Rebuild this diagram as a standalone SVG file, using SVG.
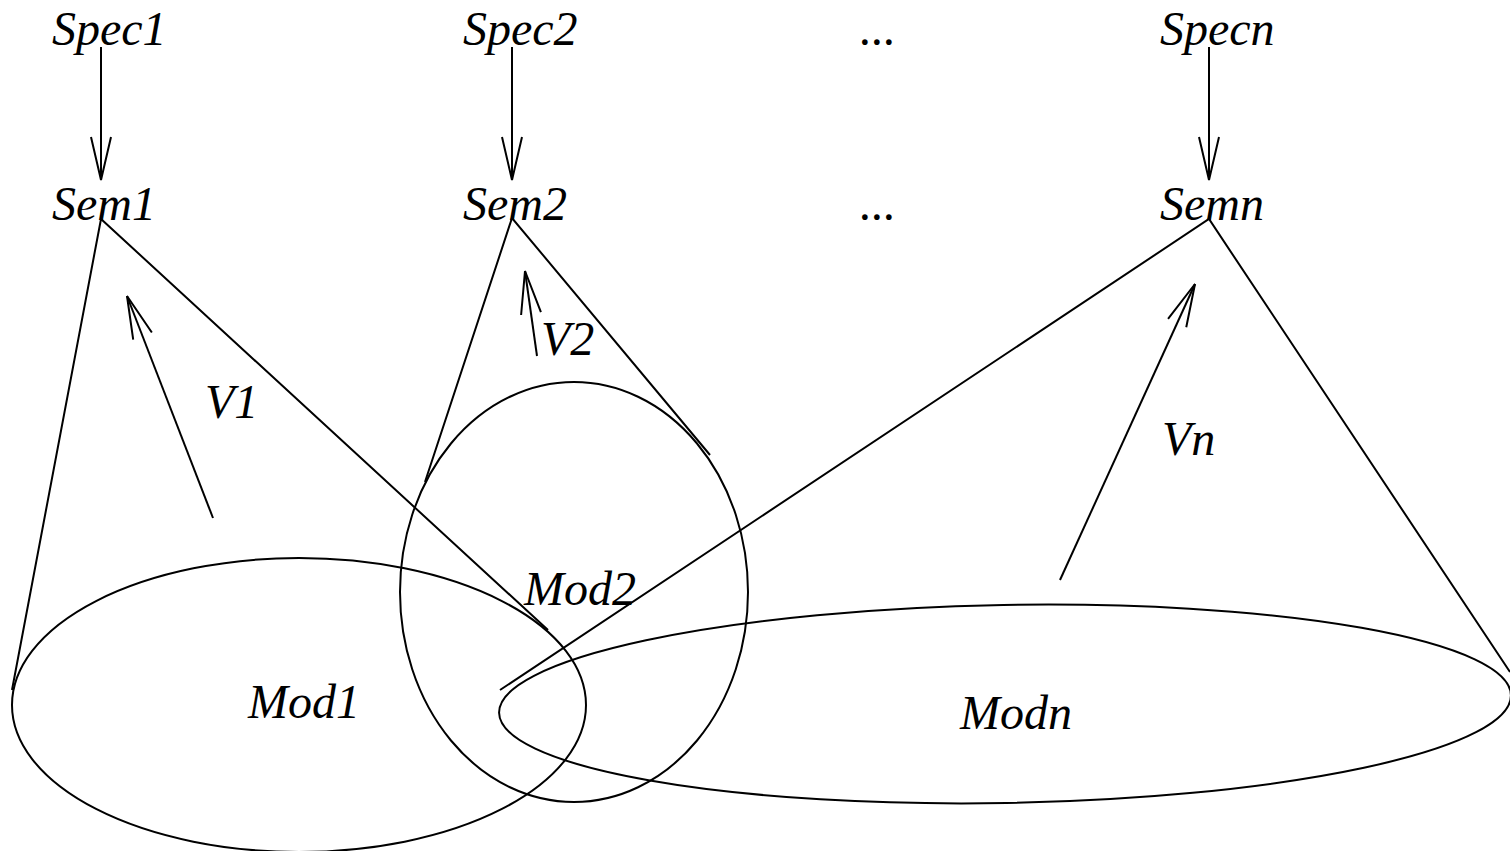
<svg xmlns="http://www.w3.org/2000/svg" width="1510" height="851" viewBox="0 0 1510 851">
<style>
text{font-family:"Liberation Serif","Times New Roman",serif;font-style:italic;font-size:48px;fill:#000}
.s{fill:none;stroke:#000;stroke-width:2}
</style>
<defs>
<marker id="arr" markerUnits="userSpaceOnUse" markerWidth="50" markerHeight="30" viewBox="-46 -15 50 30" refX="0" refY="0" orient="auto">
<path d="M-43,-10 L0,0 L-43,10" fill="none" stroke="#000" stroke-width="2"/>
</marker>
</defs>
<rect width="1510" height="851" fill="#fff"/>
<g id="mod1"><ellipse class="s" cx="299" cy="705" rx="287" ry="147"/><text x="248" y="718">Mod1</text></g>
<g id="mod2"><ellipse class="s" cx="574" cy="592" rx="174" ry="210"/><text x="524" y="605">Mod2</text></g>
<g id="modn"><ellipse class="s" cx="1005" cy="704" rx="506" ry="99" transform="rotate(-1 1005 704)"/><text x="960" y="729">Modn</text></g>
<g id="spec1"><text x="52" y="45">Spec1</text></g>
<g id="spec2"><text x="463" y="45">Spec2</text></g>
<g id="specn"><text x="1160" y="45">Specn</text></g>
<g id="dots1"><text x="860" y="45">...</text></g>
<g id="sem1"><text x="52" y="220">Sem1</text></g>
<g id="sem2"><text x="463" y="220">Sem2</text></g>
<g id="semn"><text x="1160" y="220">Semn</text></g>
<g id="dots2"><text x="860" y="220">...</text></g>
<g id="labels"><text x="205" y="418">V1</text><text x="541" y="355">V2</text><text x="1162" y="455">Vn</text></g>
<g id="connectors">
<line class="s" x1="101" y1="47" x2="101" y2="180" marker-end="url(#arr)"/>
<line class="s" x1="512" y1="47" x2="512" y2="180" marker-end="url(#arr)"/>
<line class="s" x1="1209" y1="47" x2="1209" y2="180" marker-end="url(#arr)"/>
<line class="s" x1="213" y1="518" x2="127" y2="296" marker-end="url(#arr)"/>
<line class="s" x1="537" y1="356" x2="525" y2="271" marker-end="url(#arr)"/>
<line class="s" x1="1060" y1="580" x2="1195" y2="284" marker-end="url(#arr)"/>
<polyline class="s" points="12,690 101,219 548,630"/>
<polyline class="s" points="425,482 512,218 710,455"/>
<polyline class="s" points="500,690 1209,219 1510,672"/>
</g>
</svg>
